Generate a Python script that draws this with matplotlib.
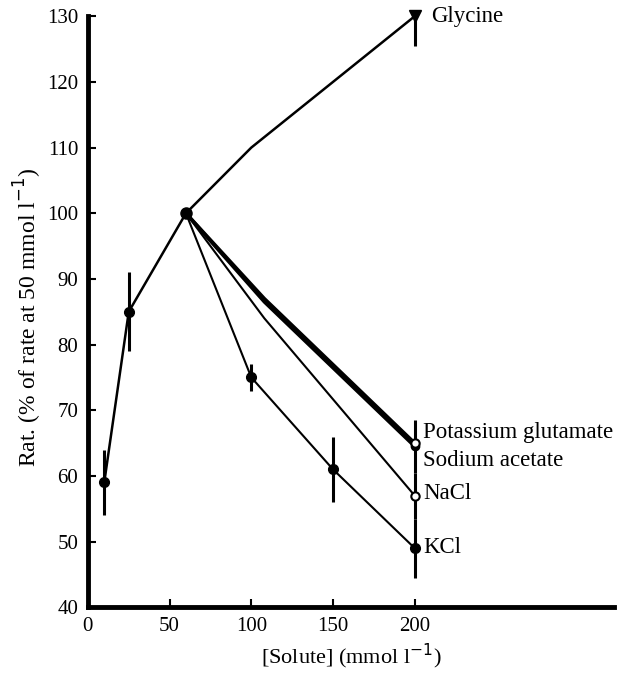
import numpy as np
import matplotlib.pyplot as plt

plt.rcParams['font.family'] = ['Liberation Serif', 'DejaVu Serif']

# shared rising part (low solute concentrations)
base_x = [10, 25, 60]
base_y = [59, 85, 100]
base_err = [5, 6, 0]

# branches from the 50 mmol point upwards
kcl_x = [60, 100, 150, 200]
kcl_y = [100, 75, 61, 49]
kcl_err = [0, 2, 5, 4.5]

nacl_x = [60, 108, 200]
nacl_y = [100, 84, 57]

kglu_x = [60, 108, 200]
kglu_y = [100, 87, 65]

naac_x = [60, 108, 200]
naac_y = [100, 86.5, 64.5]

gly_x = [60, 100, 200]
gly_y = [100, 110, 130]

fig = plt.figure(figsize=(6.19, 6.77), dpi=100)
ax = fig.add_axes([0.142, 0.103, 0.85, 0.873])

# main rising curve
ax.plot(base_x, base_y, color='black', lw=1.8, zorder=3)
ax.errorbar(base_x[:2], base_y[:2], yerr=base_err[:2], fmt='o', color='black',
            ms=7, elinewidth=2.2, capsize=0, zorder=4)

# KCl
ax.plot(kcl_x, kcl_y, color='black', lw=1.5, zorder=3)
ax.errorbar(kcl_x[1:], kcl_y[1:], yerr=kcl_err[1:], fmt='o', color='black',
            ms=7, elinewidth=2.2, capsize=0, zorder=4)

# NaCl
ax.plot(nacl_x, nacl_y, color='black', lw=1.5, zorder=3)
ax.errorbar([nacl_x[-1]], [nacl_y[-1]], yerr=3.5, fmt='o', mfc='white', mec='black',
            mew=1.5, ms=6, color='black', elinewidth=2.2, capsize=0, zorder=4)

# potassium glutamate and sodium acetate (overlapping thick lines)
ax.plot(kglu_x, kglu_y, color='black', lw=2.5, zorder=3)
ax.plot(naac_x, naac_y, color='black', lw=2.5, zorder=3)
ax.errorbar([naac_x[-1]], [naac_y[-1]], yerr=4, fmt='o', color='black',
            ms=6, elinewidth=2.2, capsize=0, zorder=4)
ax.plot([kglu_x[-1]], [kglu_y[-1]], 'o', mfc='white', mec='black', mew=1.5, ms=6, zorder=5)

# glycine
ax.plot(gly_x, gly_y, color='black', lw=1.8, zorder=3)
ax.vlines(gly_x[-1], gly_y[-1] - 4.5, gly_y[-1], color='black', lw=2.2, zorder=4)
ax.plot([gly_x[-1]], [gly_y[-1]], 'v', color='black', ms=8, clip_on=False, zorder=5)

# peak point
ax.plot([60], [100], 'o', color='black', ms=8, zorder=6)

# series labels
lab_fs = 16.5
ax.text(210, 130, 'Glycine', fontsize=lab_fs, va='center', ha='left')
ax.text(205, 66.6, 'Potassium glutamate', fontsize=lab_fs, va='center', ha='left')
ax.text(205, 62.4, 'Sodium acetate', fontsize=lab_fs, va='center', ha='left')
ax.text(205, 57.3, 'NaCl', fontsize=lab_fs, va='center', ha='left')
ax.text(205, 49.1, 'KCl', fontsize=lab_fs, va='center', ha='left')

ax.set_xlim(0, 322)
ax.set_ylim(40, 130)
ax.set_xticks([0, 50, 100, 150, 200])
ax.set_yticks(np.arange(40, 131, 10))
ax.tick_params(direction='in', length=6, width=1.5, labelsize=15, pad=7)
ax.spines['top'].set_visible(False)
ax.spines['right'].set_visible(False)
ax.spines['left'].set_linewidth(3.5)
ax.spines['bottom'].set_linewidth(3.5)

ax.set_xlabel('[Solute] (mmol l$^{-1}$)', fontsize=16, labelpad=4)
ax.set_ylabel('Rat. (% of rate at 50 mmol l$^{-1}$)', fontsize=17)
ax.yaxis.set_label_coords(-0.083, 0.49)

fig.savefig('out.png', dpi=100)
